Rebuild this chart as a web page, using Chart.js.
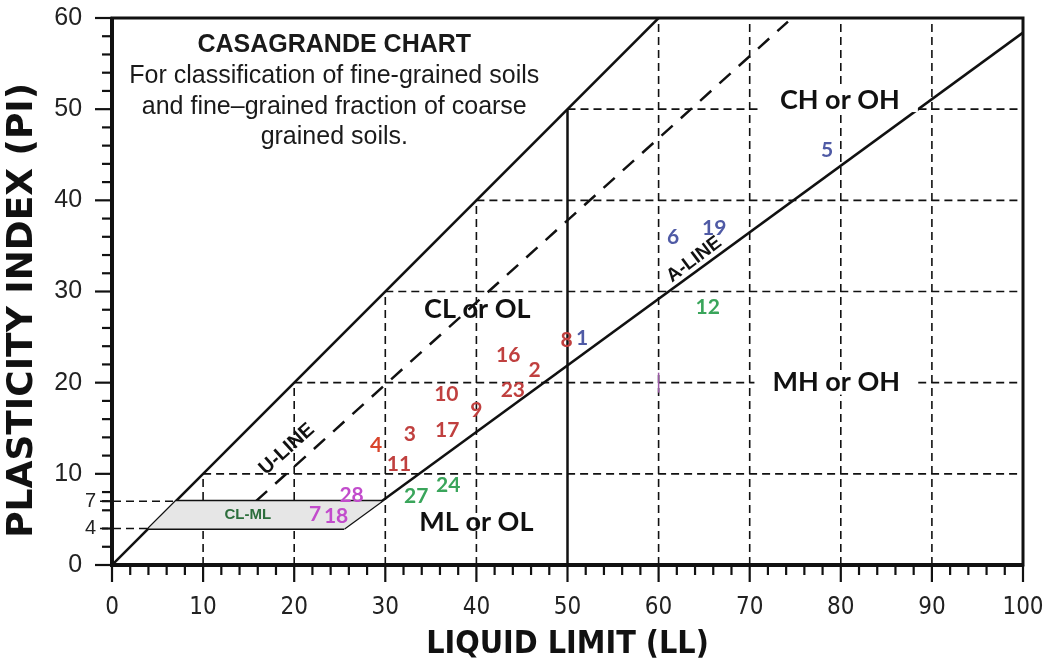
<!DOCTYPE html>
<html><head><meta charset="utf-8">
<script src="https://cdn.jsdelivr.net/npm/chart.js@4.4.1/dist/chart.umd.min.js"></script>
<style>html,body{margin:0;padding:0;background:#fff}#wrap{width:1046px;height:664px;position:relative}</style>
</head><body><div id="wrap"><canvas id="c"></canvas></div>
<script>
// ---------- data ----------
const llTickValues = [0,10,20,30,40,50,60,70,80,90,100];
const piTickValues = [0,4,7,10,20,30,40,50,60];

const redIds = ['8','16','2','23','10','9','17','3','4','11'];
const redLL  = [49.9,43.5,46.4,44.0,36.7,40.0,36.8,32.7,29.0,31.5];
const redPI  = [24.7,23.0,21.4,19.2,18.7,17.0,14.8,14.3,13.1,11.1];

const blueIds = ['1','5','6','19'];
const blueLL  = [51.6,78.5,61.6,66.1];
const bluePI  = [24.9,45.5,35.9,36.9];

const greenIds = ['12','24','27'];
const greenLL  = [65.4,36.9,33.4];
const greenPI  = [28.3,8.8,7.5];

const magentaIds = ['28','7','18'];
const magentaLL  = [26.3,22.3,24.6];
const magentaPI  = [7.6,5.6,5.3];

const markLL = [60]; const markPI = [20];

const equalityLL = [0,60];      const equalityPI = [0,60];
const uLineLL    = [15.8,74.2]; const uLinePI    = [7,59.6];
const aLineLL    = [25.5,100];  const aLinePI    = [4,58.4];
const ll50LL     = [50,50];     const ll50PI     = [0,50];
const clmlTopLL  = [7,29.6];    const clmlTopPI  = [7,7];
const clmlBotLL  = [4,25.5];    const clmlBotPI  = [4,4];
const clmlBoxLL  = [4,25.5,29.6,7,4];
const clmlBoxPI  = [4,4,7,7,4];

const vGridLL = [10,20,30,40,60,70,80,90];
const hGridPI = [10,20,30,40,50];
const shortGridPI = [4,7];

// ---------- helpers ----------
const pts = (xs, ys) => xs.map((x,i)=>({x:x, y:ys[i]}));
const SANS = '"Liberation Sans", Arial, sans-serif';
const NARROW = '"Liberation Sans Narrow", "DejaVu Sans Condensed", ' + SANS;
const CAL = 'Lato, "Open Sans", sans-serif';

function lineDs(xs, ys, opts){
  return Object.assign({type:'scatter', data:pts(xs,ys), showLine:true, pointRadius:0,
    borderColor:'#111', borderWidth:2.5, fill:false, tension:0}, opts||{});
}
function labelDs(ids, xs, ys, color){
  return {type:'scatter', data:pts(xs,ys), ids:ids, labelColor:color, pointRadius:0, showLine:false};
}

const notes = [
  {text:'CASAGRANDE CHART', ll:24.4, pi:57.0, font:'bold 25px '+SANS, color:'#1a1a1a'},
  {text:'For classification of fine-grained soils', ll:24.4, pi:53.6, font:'25px '+SANS, color:'#1a1a1a'},
  {text:'and fine\u2013grained fraction of coarse', ll:24.4, pi:50.2, font:'25px '+SANS, color:'#1a1a1a'},
  {text:'grained soils.', ll:24.4, pi:46.9, font:'25px '+SANS, color:'#1a1a1a'},
  {text:'CH or OH', ll:79.9, pi:51.0, font:'bold 27px '+CAL, color:'#111', bg:true},
  {text:'CL or OL', ll:40.1, pi:28.0, font:'bold 27px '+CAL, color:'#111'},
  {text:'MH or OH', ll:79.5, pi:20.0, font:'bold 27px '+CAL, color:'#111', bg:true},
  {text:'ML or OL', ll:40.0, pi:4.7, font:'bold 27px '+CAL, color:'#111'},
  {text:'CL-ML', ll:14.9, pi:5.45, font:'bold 15px '+SANS, color:'#2c6e3c'},
  {text:'U-LINE', ll:19.2, pi:12.7, font:'bold 20px '+SANS, color:'#111', rot:-42},
  {text:'A-LINE', ll:63.9, pi:33.5, font:'bold 19px '+SANS, color:'#111', rot:-37}
];

const decorPlugin = {
  id:'decor',
  beforeDatasetsDraw(chart){
    const {ctx, scales:{x,y}} = chart;
    ctx.save();
    ctx.strokeStyle = '#111'; ctx.lineWidth = 1.6; ctx.setLineDash([8,5]);
    vGridLL.forEach(v=>{
      ctx.beginPath(); ctx.moveTo(x.getPixelForValue(v), y.getPixelForValue(0));
      ctx.lineTo(x.getPixelForValue(v), y.getPixelForValue(Math.min(v,60))); ctx.stroke();
    });
    hGridPI.forEach(v=>{
      ctx.beginPath(); ctx.moveTo(x.getPixelForValue(v), y.getPixelForValue(v));
      ctx.lineTo(x.getPixelForValue(100), y.getPixelForValue(v)); ctx.stroke();
    });
    shortGridPI.forEach(v=>{
      ctx.beginPath(); ctx.moveTo(x.getPixelForValue(0)-12, y.getPixelForValue(v));
      ctx.lineTo(x.getPixelForValue(v), y.getPixelForValue(v)); ctx.stroke();
    });
    ctx.restore();
  },
  afterDatasetsDraw(chart){
    const {ctx, scales:{x,y}} = chart;
    ctx.save();
    chart.data.datasets.forEach((ds,i)=>{
      if(!ds.ids) return;
      const meta = chart.getDatasetMeta(i);
      ctx.font = 'bold 21px ' + CAL;
      ctx.textAlign='center'; ctx.textBaseline='middle';
      meta.data.forEach((el,j)=>{
        ctx.fillStyle = (ds.ids[j]==='4') ? '#d9452c' : ds.labelColor;
        ctx.fillText(ds.ids[j], el.x, el.y);
      });
    });
    notes.forEach(n=>{
      const px = x.getPixelForValue(n.ll), py = y.getPixelForValue(n.pi);
      ctx.save(); ctx.translate(px,py); if(n.rot) ctx.rotate(n.rot*Math.PI/180);
      ctx.font = n.font; ctx.textAlign='center'; ctx.textBaseline='middle';
      if(n.bg){ const w = ctx.measureText(n.text).width; ctx.fillStyle='#fff'; ctx.fillRect(-w/2-18,-12,w+36,24); }
      ctx.fillStyle = n.color; ctx.fillText(n.text,0,0);
      ctx.restore();
    });
    ctx.restore();
  },
  afterDraw(chart){
    const {ctx, chartArea:a, scales:{x,y}} = chart;
    ctx.save();
    ctx.strokeStyle='#111';
    ctx.lineWidth = 3; ctx.strokeRect(a.left, a.top, a.right-a.left, a.bottom-a.top);
    ctx.lineWidth = 2.2;
    x.ticks.forEach(t=>{
      const px = x.getPixelForValue(t.value), len = (t.value%10===0)?17:10;
      ctx.beginPath(); ctx.moveTo(px, a.bottom); ctx.lineTo(px, a.bottom+len); ctx.stroke();
    });
    y.ticks.forEach(t=>{
      const py = y.getPixelForValue(t.value), len = (t.value%10===0)?17:10;
      ctx.beginPath(); ctx.moveTo(a.left, py); ctx.lineTo(a.left-len, py); ctx.stroke();
    });
    ctx.lineWidth = 4;
    ctx.beginPath(); ctx.moveTo(a.left, a.top); ctx.lineTo(a.left, a.bottom); ctx.lineTo(a.right, a.bottom); ctx.stroke();
    ctx.restore();
  }
};

const datasets = [
  lineDs(clmlBoxLL, clmlBoxPI, {borderWidth:0, backgroundColor:'#e6e6e6', fill:'shape'}),
  lineDs(equalityLL, equalityPI),
  lineDs(uLineLL, uLinePI, {borderDash:[15,11]}),
  lineDs(aLineLL, aLinePI),
  lineDs(ll50LL, ll50PI),
  lineDs(clmlTopLL, clmlTopPI, {borderWidth:3}),
  lineDs(clmlBotLL, clmlBotPI, {borderWidth:3}),
  {type:'scatter', data:pts(markLL, markPI), pointStyle:'line', rotation:90, pointRadius:10,
   borderColor:'#9b5aa6', borderWidth:1.5, showLine:false},
  labelDs(redIds, redLL, redPI, '#c0403f'),
  labelDs(blueIds, blueLL, bluePI, '#4f5aa5'),
  labelDs(greenIds, greenLL, greenPI, '#3aa55b'),
  labelDs(magentaIds, magentaLL, magentaPI, '#c24ccc')
];

new Chart(document.getElementById('c'), {
  type:'scatter',
  data:{datasets},
  options:{
    responsive:true, maintainAspectRatio:false, animation:false,
    layout:{padding:{left:0, top:18, right:23, bottom:0}},
    plugins:{legend:{display:false}, tooltip:{enabled:false}},
    scales:{
      x:{type:'linear', min:0, max:100, position:'bottom',
        afterBuildTicks(s){ const t=[]; for(let v=0; v<=100; v+=2) t.push({value:v}); s.ticks=t; },
        afterFit(s){ s.height = 99; s.paddingLeft = 0; s.paddingRight = 0; },
        ticks:{autoSkip:false, maxRotation:0, padding:28, color:'#222',
          font:{family:NARROW, size:24},
          callback:(v)=> llTickValues.includes(v) ? String(v) : ''},
        grid:{display:false, drawTicks:false},
        border:{display:false},
        title:{display:true, text:'LIQUID LIMIT (LL)', color:'#111',
          font:{family:NARROW, size:32, weight:'bold'}, padding:{top:0,bottom:0}}
      },
      y:{type:'linear', min:0, max:60, position:'left',
        afterBuildTicks(s){ const t=[]; for(let v=0; v<=60; v+=2){ t.push({value:v}); if(v===6) t.push({value:7}); } s.ticks=t; },
        afterFit(s){ s.width = 112; s.paddingTop = 0; s.paddingBottom = 0; },
        ticks:{autoSkip:false, padding:16, color:'#222',
          font:(c)=>({family:SANS, size:(c.tick && (c.tick.value===4||c.tick.value===7)) ? 20 : 25}),
          callback:(v)=> piTickValues.includes(v) ? ((v===4||v===7) ? String(v) : String(v)+'  ') : ''},
        grid:{display:false, drawTicks:false},
        border:{display:false},
        title:{display:true, text:'PLASTICITY INDEX (PI)   ', color:'#111',
          font:{family:'"DejaVu Sans", sans-serif', size:36, weight:'bold'}, padding:{top:1,bottom:0}}
      }
    }
  },
  plugins:[decorPlugin]
});
</script></body></html>
